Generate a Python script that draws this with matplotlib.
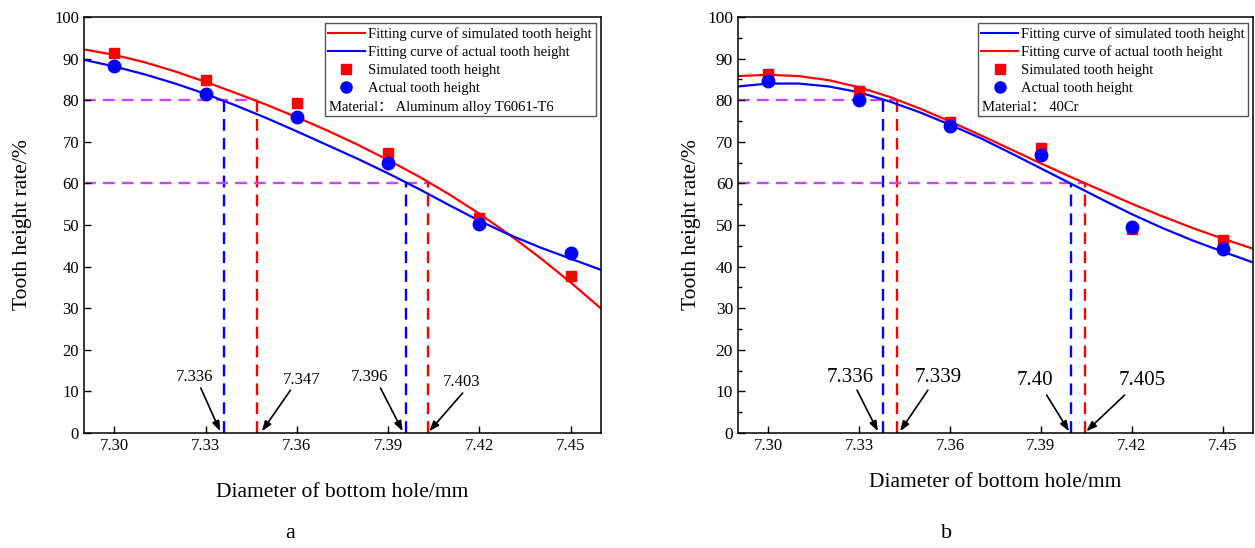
import numpy as np
import matplotlib
matplotlib.use("Agg")
import matplotlib.pyplot as plt
from matplotlib.patches import Rectangle
from matplotlib.lines import Line2D

plt.rcParams['font.family'] = ['Liberation Serif', 'Noto Sans CJK SC', 'DejaVu Serif']

# bottom hole diameter (mm)
diameter = [7.30, 7.33, 7.36, 7.39, 7.42, 7.45]

# chart a: aluminum alloy T6061-T6
sim_a = [91.3, 84.9, 79.3, 67.2, 51.6, 37.8]
act_a = [88.2, 81.4, 75.9, 65.0, 50.2, 43.2]

# chart b: 40Cr
sim_b = [86.3, 82.3, 74.7, 68.5, 49.0, 46.4]
act_b = [84.6, 80.0, 73.8, 66.8, 49.5, 44.2]

# fitted curves
curve_x = [7.29, 7.30, 7.31, 7.32, 7.33, 7.34, 7.35, 7.36, 7.37,
           7.38, 7.39, 7.40, 7.41, 7.42, 7.43, 7.44, 7.45, 7.46]
fit_sim_a = [92.2, 90.9, 89.1, 86.9, 84.4, 81.7, 78.9, 75.9, 72.7,
             69.3, 65.6, 61.7, 57.4, 52.7, 47.6, 42.1, 36.2, 29.9]
fit_act_a = [89.7, 88.1, 86.2, 84.0, 81.5, 78.7, 75.7, 72.5, 69.2,
             65.9, 62.4, 58.7, 54.8, 51.0, 47.6, 44.6, 41.9, 39.2]
fit_red_b = [85.8, 86.1, 85.8, 84.8, 83.1, 80.8, 78.0, 74.9, 71.6,
             68.2, 64.8, 61.5, 58.3, 55.1, 52.1, 49.3, 46.7, 44.3]
fit_blue_b = [83.3, 84.0, 84.0, 83.3, 81.9, 79.7, 77.1, 74.1, 70.9,
              67.3, 63.6, 59.9, 56.2, 52.6, 49.3, 46.3, 43.6, 41.0]

# tooth height levels and where the fitted curves cross them
levels = [80, 60]
cross_a_act = [7.336, 7.396]
cross_a_sim = [7.347, 7.403]
cross_b_act = [7.338, 7.400]
cross_b_sim = [7.3425, 7.4047]
labels_a = ['7.336', '7.347', '7.396', '7.403']
labels_b = ['7.336', '7.339', '7.40', '7.405']

xticks = [7.30, 7.33, 7.36, 7.39, 7.42, 7.45]
xlim = (7.29, 7.46)

RED = '#ff0000'
BLUE = '#0000ff'
MAGENTA = '#cc44ff'
dash = (0, (5, 3))


def setup_axes(ax, minor_y, ytick_size):
    ax.set_xlim(*xlim)
    ax.set_ylim(0, 100)
    ax.set_xticks(xticks)
    ax.set_xticklabels(['%.2f' % t for t in xticks])
    ax.set_yticks(np.arange(0, 101, 10))
    if minor_y:
        ax.set_yticks(np.arange(5, 100, 10), minor=True)
    ax.tick_params(direction='in', length=5, width=1, labelsize=12)
    ax.tick_params(axis='y', labelsize=ytick_size)
    ax.tick_params(which='minor', direction='in', length=3, width=1)
    for s in ax.spines.values():
        s.set_linewidth(1.1)
    ax.set_xlabel('Diameter of bottom hole/mm', fontsize=15.5)
    ax.set_ylabel('Tooth height rate/%', fontsize=15.5)


def draw_guides(ax, act_cross, sim_cross):
    for lev, xa, xs in zip(levels, act_cross, sim_cross):
        ax.plot([xlim[0], xs], [lev, lev], color=MAGENTA, lw=1.7, ls=dash, zorder=1)
        ax.plot([xa, xa], [0, lev], color=BLUE, lw=1.7, ls=dash, zorder=1)
        ax.plot([xs, xs], [0, lev], color=RED, lw=1.7, ls=dash, zorder=1)


def draw_arrows(ax, labels, heads, tails, texts, size):
    for lab, h, t, tx in zip(labels, heads, tails, texts):
        ax.annotate('', xy=(h, 0.4), xytext=t,
                    arrowprops=dict(arrowstyle='-|>,head_length=0.6,head_width=0.22',
                                    color='black', lw=1.2, shrinkA=0, shrinkB=0),
                    zorder=4)
        ax.text(tx[0], tx[1], lab, fontsize=size, ha='center', va='center')


def draw_legend(ax, entries, material):
    ax.add_patch(Rectangle((0.466, 0.762), 0.524, 0.224, transform=ax.transAxes,
                           fill=False, edgecolor='#555555', lw=1.0, zorder=5))
    handles = []
    names = []
    for kind, color, name in entries:
        if kind == 'line':
            handles.append(Line2D([], [], color=color, lw=1.5))
        elif kind == 'square':
            handles.append(Line2D([], [], color=color, marker='s', ls='none', ms=7))
        else:
            handles.append(Line2D([], [], color=color, marker='o', ls='none', ms=8))
        names.append(name)
    ax.legend(handles, names, loc='upper left', bbox_to_anchor=(0.464, 0.986),
              frameon=False, fontsize=10.5, handlelength=2.5, handletextpad=0.25,
              labelspacing=0.32, borderpad=0.3, borderaxespad=0)
    ax.text(0.474, 0.782, material, transform=ax.transAxes, fontsize=10.5,
            ha='left', va='center')


fig = plt.figure(figsize=(12.55, 5.48), dpi=100)
ax1 = fig.add_axes([0.0669, 0.2099, 0.412, 0.7591])
ax2 = fig.add_axes([0.588, 0.2099, 0.4104, 0.7591])

# ---- chart a
setup_axes(ax1, False, 12)
draw_guides(ax1, cross_a_act, cross_a_sim)
ax1.plot(curve_x, fit_sim_a, color=RED, lw=1.6, zorder=2)
ax1.plot(curve_x, fit_act_a, color=BLUE, lw=1.6, zorder=2)
ax1.plot(diameter, sim_a, 's', color=RED, ms=7.5, zorder=3)
ax1.plot(diameter, act_a, 'o', color=BLUE, ms=9, zorder=3)
draw_arrows(ax1, labels_a,
            [cross_a_act[0] - 0.0012, cross_a_sim[0] + 0.0015,
             cross_a_act[1] - 0.0012, cross_a_sim[1] + 0.0005],
            [(7.3284, 10.8), (7.3579, 10.3), (7.3875, 10.8), (7.4145, 9.6)],
            [(7.3264, 13.4), (7.3615, 12.7), (7.3839, 13.4), (7.4141, 12.2)], 12)
draw_legend(ax1, [('line', RED, 'Fitting curve of simulated tooth height'),
                  ('line', BLUE, 'Fitting curve of actual tooth height'),
                  ('square', RED, 'Simulated tooth height'),
                  ('circle', BLUE, 'Actual tooth height')],
            'Material\uff1a Aluminum alloy T6061-T6')
ax1.xaxis.set_label_coords(0.5, -0.12)
ax1.yaxis.set_label_coords(-0.1, 0.5)

# ---- chart b
setup_axes(ax2, True, 12.5)
draw_guides(ax2, cross_b_act, cross_b_sim)
ax2.plot(curve_x, fit_red_b, color=RED, lw=1.6, zorder=2)
ax2.plot(curve_x, fit_blue_b, color=BLUE, lw=1.6, zorder=2)
ax2.plot(diameter, sim_b, 's', color=RED, ms=7.5, zorder=3)
ax2.plot(diameter, act_b, 'o', color=BLUE, ms=9, zorder=3)
draw_arrows(ax2, labels_b,
            [cross_b_act[0] - 0.0018, cross_b_sim[0] + 0.001,
             cross_b_act[1] - 0.0007, cross_b_sim[1] + 0.0003],
            [(7.3293, 10.3), (7.3527, 10.3), (7.3919, 9.1), (7.4176, 9.1)],
            [(7.3270, 13.4), (7.3560, 13.4), (7.3879, 12.5), (7.4235, 12.5)], 15)
draw_legend(ax2, [('line', BLUE, 'Fitting curve of simulated tooth height'),
                  ('line', RED, 'Fitting curve of actual tooth height'),
                  ('square', RED, 'Simulated tooth height'),
                  ('circle', BLUE, 'Actual tooth height')],
            'Material\uff1a 40Cr')
ax2.xaxis.set_label_coords(0.5, -0.096)
ax2.yaxis.set_label_coords(-0.072, 0.5)

fig.text(290 / 1255, 1 - 533 / 548, 'a', fontsize=16, ha='center', va='center')
fig.text(947 / 1255, 1 - 533 / 548, 'b', fontsize=16, ha='center', va='center')

fig.savefig('out.png', dpi=100)
